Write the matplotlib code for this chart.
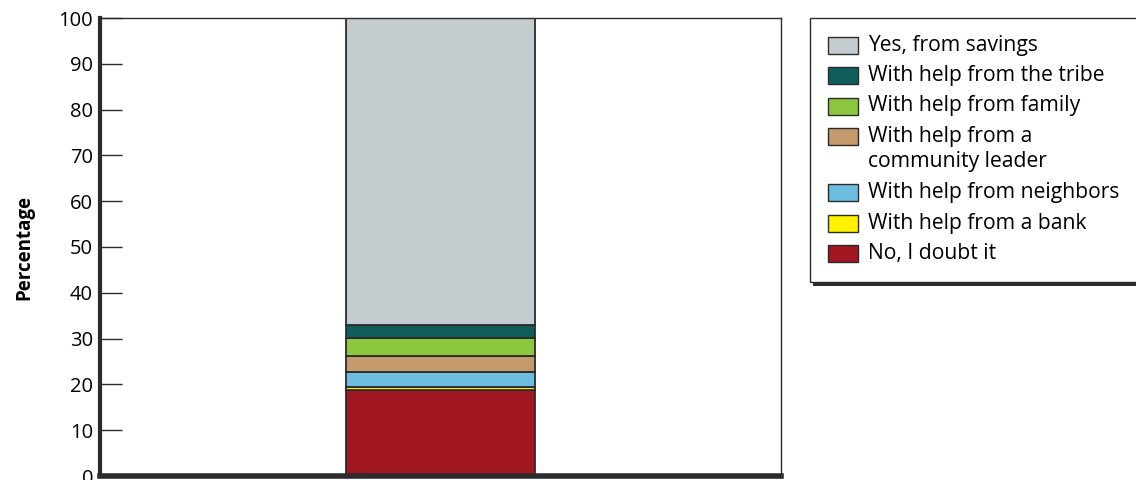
import matplotlib
matplotlib.use("Agg")
import matplotlib.pyplot as plt
from matplotlib.patches import Rectangle

plt.rcParams["font.family"] = ["Open Sans", "DejaVu Sans"]

# stacked shares, bottom to top
labels = ["No, I doubt it", "With help from a bank", "With help from neighbors",
          "With help from a\ncommunity leader", "With help from family",
          "With help from the tribe", "Yes, from savings"]
values = [18.7, 0.7, 3.2, 3.5, 4.0, 2.9, 67.0]
colors = ["#a01722", "#fff200", "#6dbde0", "#c49a6c", "#8dc63f", "#0f5e5c", "#c5cccf"]
yticks = list(range(0, 101, 10))

fig = plt.figure(figsize=(11.36, 4.8), dpi=100)
ax = fig.add_axes([100 / 1136, 1 - 476 / 480, (781 - 100) / 1136, (476 - 18) / 480])

bottom = 0
for v, c in zip(values, colors):
    ax.bar(0, v, bottom=bottom, width=0.279, color=c, edgecolor="#2b2b2b", linewidth=1.3, zorder=2)
    bottom += v

ax.set_xlim(-0.5, 0.5)
ax.set_ylim(0, 100)
ax.set_xticks([])
ax.set_yticks(yticks)
ax.tick_params(axis="y", direction="in", length=16, width=1.0, color="#2b2b2b",
               labelsize=14.5, pad=5)
for s in ["top", "right"]:
    ax.spines[s].set_linewidth(1.0)
    ax.spines[s].set_color("#2b2b2b")
ax.spines["left"].set_linewidth(3)
ax.spines["bottom"].set_linewidth(4)
ax.spines["left"].set_color("#2b2b2b")
ax.spines["bottom"].set_color("#2b2b2b")
ax.set_ylabel("Percentage", fontsize=13.5, fontweight="bold", labelpad=17)

# legend panel, pixel coordinates
lg = fig.add_axes([0, 0, 1, 1], zorder=5)
lg.set_xlim(0, 1136)
lg.set_ylim(480, 0)
lg.axis("off")
lg.add_patch(Rectangle((813, 21), 340, 265, facecolor="#2b2b2b", edgecolor="none"))
lg.add_patch(Rectangle((810, 18), 340, 264, facecolor="white", edgecolor="#2b2b2b", linewidth=1.0))

y = 45
for lab, c in zip(labels[::-1], colors[::-1]):
    lg.add_patch(Rectangle((828, y - 8.5), 30, 17, facecolor=c, edgecolor="#2b2b2b", linewidth=1.0))
    for i, line in enumerate(lab.split("\n")):
        lg.text(868, y + 25.5 * i, line, fontsize=15.2, va="center", ha="left")
    y += 30.5 + 25.5 * lab.count("\n")

fig.savefig("out.png", dpi=100)
